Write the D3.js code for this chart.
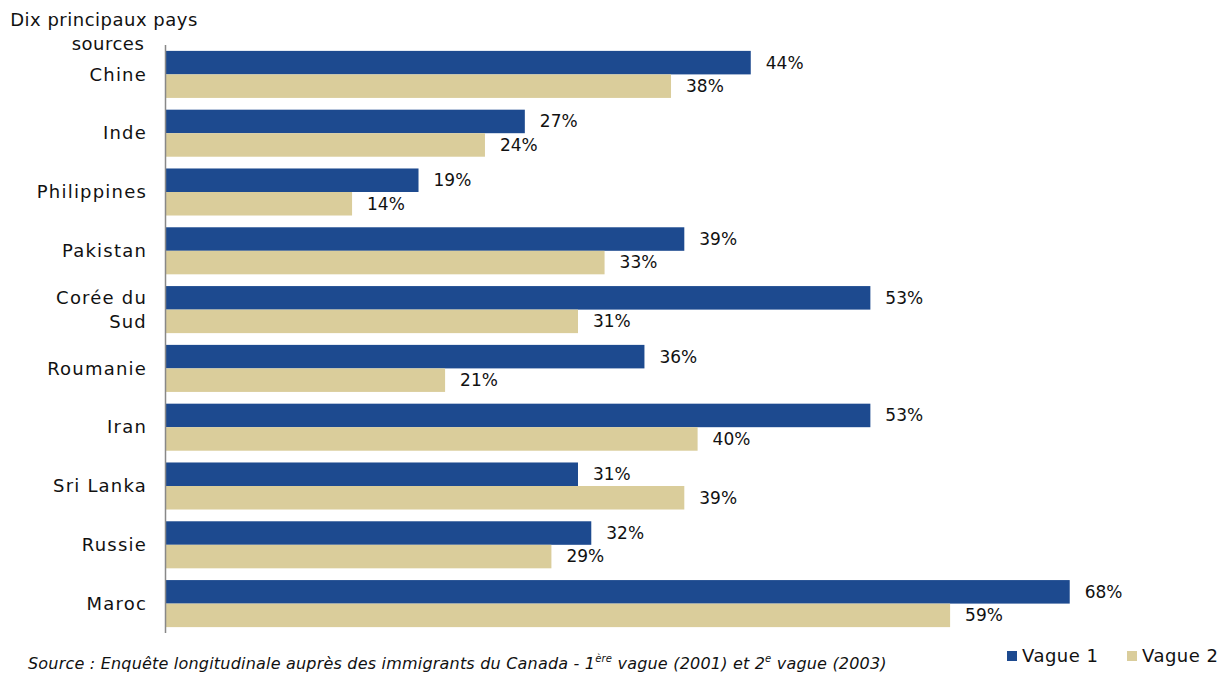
<!DOCTYPE html>
<html>
<head>
  <meta charset="utf-8">
  <title>Dix principaux pays sources</title>
  <style>
    body { margin: 0; background: #fff; }
    text { font-family: "DejaVu Sans", Verdana, sans-serif; fill: #111; }
  </style>
</head>
<body>
  <svg></svg>
  <script src="https://d3js.org/d3.v7.min.js"></script>
  <script>
    const countries = ["Chine", "Inde", "Philippines", "Pakistan", "Corée du Sud", "Roumanie", "Iran", "Sri Lanka", "Russie", "Maroc"];
    const vague1 = [44, 27, 19, 39, 53, 36, 53, 31, 32, 68];
    const vague2 = [38, 24, 14, 33, 31, 21, 40, 39, 29, 59];
    const seriesNames = ["Vague 1", "Vague 2"];
    const colors = ["#1d4a8f", "#dacd9b"];

    const width = 1225;
    const height = 676;
    const plotLeft = 166;
    const plotTop = 45;
    const plotBottom = 633;

    const svg = d3.select("svg")
      .attr("width", width)
      .attr("height", height)
      .attr("viewBox", [0, 0, width, height]);

    const x = d3.scaleLinear([0, 10], [plotLeft, plotLeft + 132.9]);
    const y = d3.scaleBand(countries, [plotTop, plotBottom]).paddingInner(0.2).paddingOuter(0.1);
    const sub = d3.scaleBand([0, 1], [0, y.bandwidth()]);

    const data = countries.map((c, i) => ({ c, v: [vague1[i], vague2[i]] }));

    const rows = svg.selectAll("g.row")
      .data(data)
      .join("g")
      .attr("class", "row")
      .attr("transform", d => `translate(0,${y(d.c)})`);

    rows.selectAll("rect")
      .data(d => d.v)
      .join("rect")
      .attr("x", x(0))
      .attr("y", (d, i) => sub(i))
      .attr("width", d => x(d) - x(0))
      .attr("height", sub.bandwidth())
      .attr("fill", (d, i) => colors[i]);

    rows.selectAll("text.val")
      .data(d => d.v)
      .join("text")
      .attr("class", "val")
      .attr("x", d => x(d) + 15)
      .attr("y", (d, i) => sub(i) + sub.bandwidth() / 2)
      .attr("dy", "0.35em")
      .attr("font-size", 17)
      .text(d => d + "%");

    // category labels
    rows.append("text")
      .attr("text-anchor", "end")
      .attr("x", 147)
      .attr("y", y.bandwidth() / 2)
      .attr("font-size", 18)
      .attr("letter-spacing", 1.2)
      .each(function (d) {
        const lines = d.c === "Corée du Sud" ? ["Corée du", "Sud"] : [d.c];
        const t = d3.select(this);
        lines.forEach((l, k) => {
          t.append("tspan")
            .attr("x", 147)
            .attr("dy", k === 0 ? (0.35 - (lines.length - 1) * 0.67) + "em" : "1.34em")
            .text(l);
        });
      });

    // axis line
    svg.append("line")
      .attr("x1", plotLeft - 0.5).attr("x2", plotLeft - 0.5)
      .attr("y1", plotTop).attr("y2", plotBottom)
      .attr("stroke", "#888").attr("stroke-width", 1.5);

    // title
    svg.append("text").attr("x", 104).attr("y", 26).attr("text-anchor", "middle")
      .attr("font-size", 18).attr("letter-spacing", 0.5).text("Dix principaux pays");
    svg.append("text").attr("x", 108).attr("y", 50).attr("text-anchor", "middle")
      .attr("font-size", 18).attr("letter-spacing", 0.5).text("sources");

    // source
    const src = svg.append("text").attr("x", 28).attr("y", 669)
      .attr("font-size", 16).attr("letter-spacing", 0.2).attr("font-style", "italic");
    src.append("tspan").text("Source : Enquête longitudinale auprès des immigrants du Canada - 1");
    src.append("tspan").attr("font-size", 10).attr("dy", -7).text("ère");
    src.append("tspan").attr("dy", 7).text(" vague (2001) et 2");
    src.append("tspan").attr("font-size", 10).attr("dy", -7).text("e");
    src.append("tspan").attr("dy", 7).text(" vague (2003)");

    // legend
    const legX = [1007, 1127];
    const leg = svg.selectAll("g.leg")
      .data(seriesNames)
      .join("g")
      .attr("class", "leg")
      .attr("transform", (d, i) => `translate(${legX[i]},651)`);
    leg.append("rect").attr("width", 10).attr("height", 10).attr("fill", (d, i) => colors[i]);
    leg.append("text").attr("x", 15).attr("y", 5).attr("dy", "0.35em")
      .attr("font-size", 18).attr("letter-spacing", 0.5).text(d => d);
  </script>
</body>
</html>
